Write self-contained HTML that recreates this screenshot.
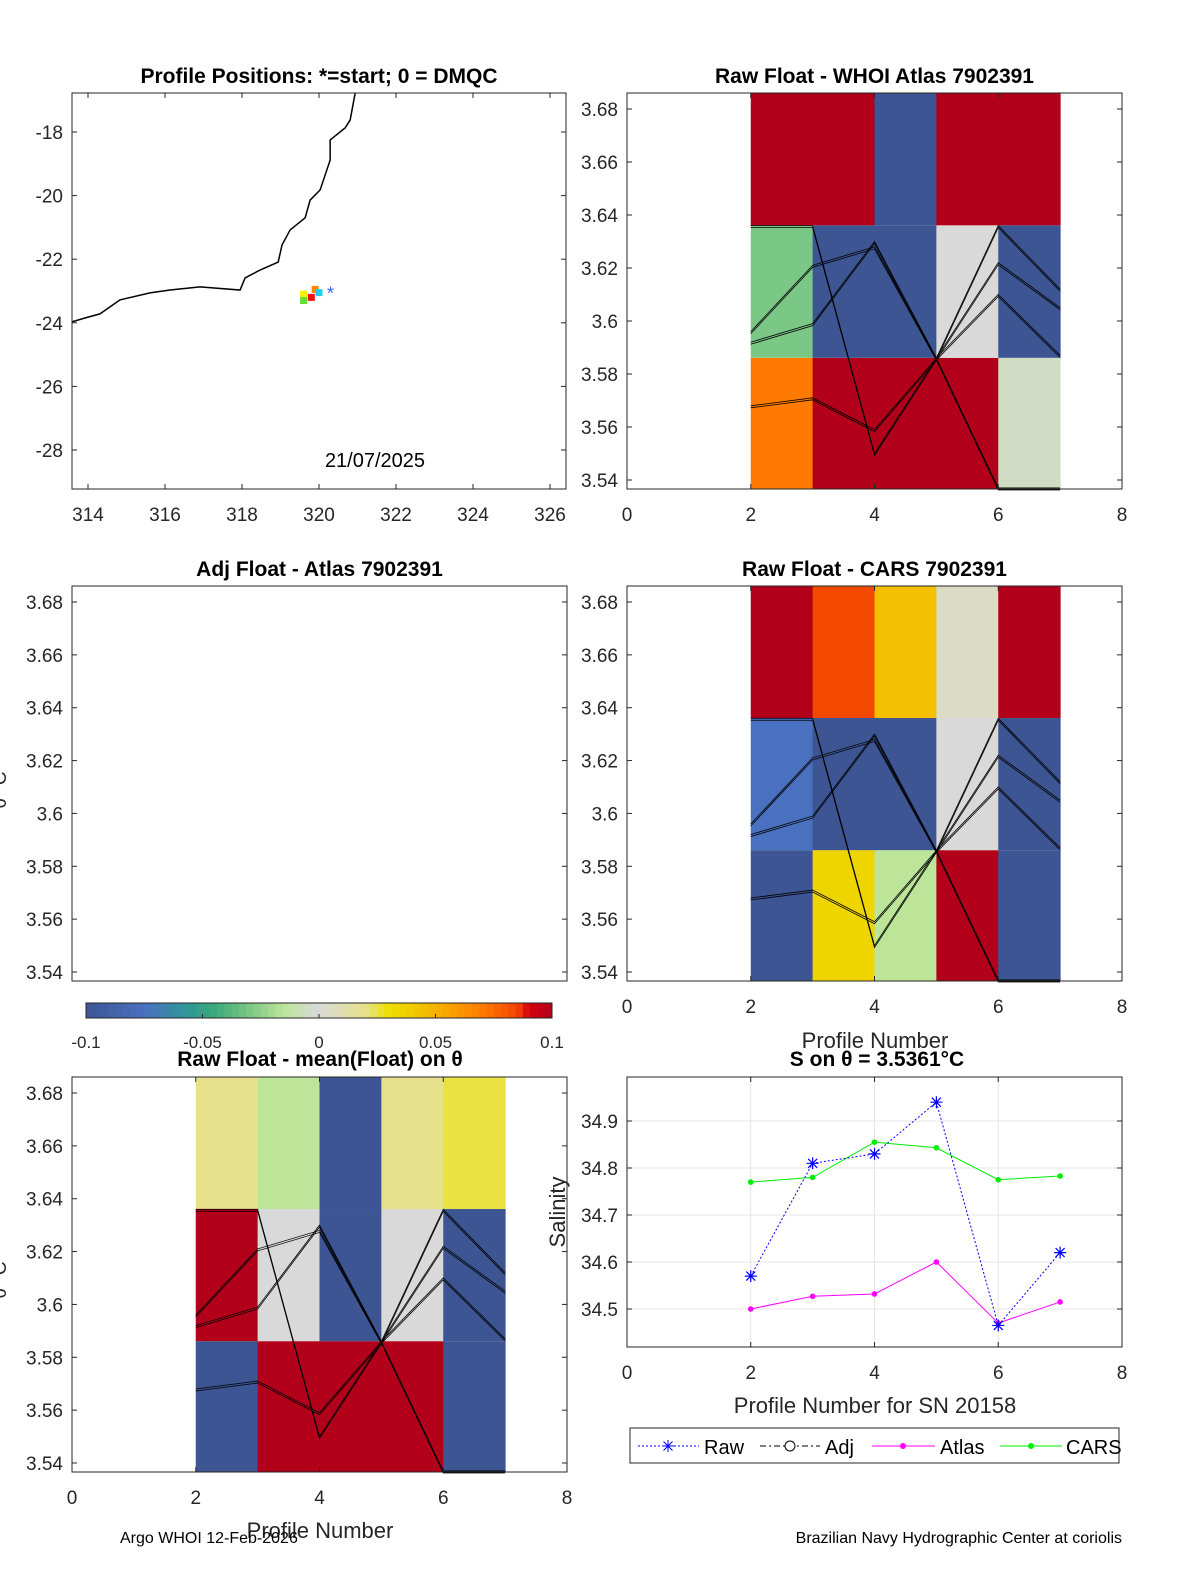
<!DOCTYPE html>
<html><head><meta charset="utf-8"><style>
body{margin:0;background:#fff}
svg{display:block;font-family:"Liberation Sans",sans-serif}
</style></head><body>
<svg id="fig" width="1200" height="1575" xmlns="http://www.w3.org/2000/svg"></svg>
<script>
// ---- data ----
const profiles=[2,3,4,5,6];
const thetaEdges=[3.5361,3.5861,3.6361,3.69];
const rawAtlasGrid=[[0.07,0.1,0.1,0.1,-0.005],[-0.03,-0.1,-0.1,0,-0.1],[0.1,0.1,-0.1,0.1,0.1]];
const rawCarsGrid=[[-0.1,0.035,-0.015,0.1,-0.1],[-0.075,-0.1,-0.1,0,-0.1],[0.1,0.085,0.045,0.005,0.1]];
const meanGrid=[[-0.1,0.1,0.1,0.1,-0.1],[0.1,0,-0.1,0,-0.1],[0.02,-0.015,-0.1,0.02,0.025]];
const lonTicks=[314,316,318,320,322,324,326];
const latTicks=[-18,-20,-22,-24,-26,-28];
const thetaTicks=[3.54,3.56,3.58,3.6,3.62,3.64,3.66,3.68];
const profTicks=[0,2,4,6,8];
const salTicks=[34.5,34.6,34.7,34.8,34.9];
const salProf=[2,3,4,5,6,7];
const rawSal=[34.57,34.81,34.83,34.94,34.465,34.62];
const atlasSal=[34.50,34.527,34.532,34.60,34.47,34.515];
const carsSal=[34.77,34.78,34.855,34.843,34.775,34.783];
const coastLon=[313.58,313.92,314.31,314.83,315.61,316.13,316.91,317.95,318.08,318.47,318.94,319.04,319.25,319.64,319.77,320.03,320.16,320.29,320.29,320.68,320.81,320.94];
const coastLat=[-23.97,-23.85,-23.72,-23.28,-23.06,-22.97,-22.87,-22.97,-22.59,-22.34,-22.09,-21.55,-21.08,-20.70,-20.14,-19.82,-19.35,-18.88,-18.25,-17.87,-17.62,-16.77];
const posLon=[319.6,319.9,319.8,320.0,319.6,320.3];
const posLat=[-23.1,-22.95,-23.2,-23.05,-23.3,-22.95];
const posCol=['#ffee00','#ff8800','#ee1111','#22ccee','#66dd33','#3366ff'];
const lineA=[3.592,3.599,3.63,3.586,3.61,3.587];
const lineB=[3.568,3.571,3.559,3.586,3.537,3.537];
const lineC=[3.596,3.621,3.628,3.586,3.622,3.605];
const lineD=[3.636,3.636,3.55,3.586,3.636,3.612];

const cmStops=[[-0.1,'#3d5593'],[-0.075,'#4a70c0'],[-0.055,'#2f9a95'],[-0.045,'#3aa87a'],[-0.03,'#7bc785'],[-0.015,'#bde59a'],[0,'#d9d9d9'],[0.02,'#e6e18a'],[0.03,'#ede000'],[0.05,'#f5b400'],[0.07,'#ff7a00'],[0.085,'#f24800'],[0.09,'#d60010'],[0.1,'#b2001a']];
function hex(c){return [1,3,5].map(i=>parseInt(c.substr(i,2),16));}
function cmap(v){v=Math.max(-0.1,Math.min(0.1,v));for(let i=0;i<cmStops.length-1;i++){const[a,ca]=cmStops[i],[b,cb]=cmStops[i+1];if(v<=b){const t=(v-a)/(b-a),A=hex(ca),B=hex(cb);return 'rgb('+A.map((x,k)=>Math.round(x+(B[k]-x)*t)).join(',')+')';}}return '#b2001a';}

const svg=document.getElementById('fig');const NS='http://www.w3.org/2000/svg';
function el(t,a,p){const e=document.createElementNS(NS,t);for(const k in a)e.setAttribute(k,a[k]);(p||svg).appendChild(e);return e;}
function txt(s,x,y,a,p){const e=el('text',Object.assign({x:x,y:y,'font-size':19,fill:'#262626'},a),p);e.textContent=s;return e;}
function lin(d0,d1,r0,r1){return v=>r0+(v-d0)*(r1-r0)/(d1-d0);}

function axesBox(name,x0,y0,x1,y1,title){
  const g=el('g',{});
  el('rect',{x:x0,y:y0,width:x1-x0,height:y1-y0,fill:'#fff'},g);
  if(title){const t=txt(title,(x0+x1)/2,y0-10,{'text-anchor':'middle','font-weight':'bold','font-size':21,fill:'#000'},g);}
  return g;
}
function frame(g,x0,y0,x1,y1){el('rect',{x:x0,y:y0,width:x1-x0,height:y1-y0,fill:'none',stroke:'#262626','stroke-width':1},g);}
function xticks(g,ticks,sx,y0,y1,fmt){ticks.forEach(t=>{const x=sx(t);el('line',{x1:x,x2:x,y1:y1,y2:y1-5,stroke:'#262626'},g);el('line',{x1:x,x2:x,y1:y0,y2:y0+5,stroke:'#262626'},g);const e=txt(fmt?fmt(t):String(t),x,y1+32,{'text-anchor':'middle'},g);});}
function yticks(g,ticks,sy,x0,x1){ticks.forEach(t=>{const y=sy(t);el('line',{x1:x0,x2:x0+5,y1:y,y2:y,stroke:'#262626'},g);el('line',{x1:x1,x2:x1-5,y1:y,y2:y,stroke:'#262626'},g);const e=txt(String(t),x0-9,y+7,{'text-anchor':'end'},g);});}

function heatPanel(name,x0,y0,x1,y1,title,grid){
  const g=axesBox(name,x0,y0,x1,y1,title);
  const sx=lin(0,8,x0,x1);const sy=lin(3.54,3.68,y1-9,y0+16);
  grid.forEach((row,r)=>row.forEach((v,c)=>{
    const ya=r===2?y0:sy(thetaEdges[r+1]);const yb=r===0?y1:sy(thetaEdges[r]);
    const rc=el('rect',{x:sx(profiles[c]),y:ya,width:sx(profiles[c]+1)-sx(profiles[c])+0.5,height:yb-ya,fill:cmap(v)},g);
    
  }));
  [lineA,lineB,lineC,lineD].forEach((L)=>{
    const pts=L.slice(0,6).map((v,k)=>sx(k+2)+','+Math.min(y1,Math.max(y0,sy(v)))).join(' ');
    [0,2].forEach(o=>{const p=el('polyline',{points:pts,fill:'none',stroke:'#000','stroke-width':0.8,transform:'translate(0,'+o+')'},g);});
  });
  xticks(g,profTicks,sx,y0,y1);yticks(g,thetaTicks,sy,x0,x1);frame(g,x0,y0,x1,y1);
  return g;
}
(function(){
  const x0=72,y0=93,x1=566,y1=489;
  const g=axesBox('profile-map',x0,y0,x1,y1,'Profile Positions: *=start; 0 = DMQC');
  const sx=lin(314,326,88,550),sy=lin(-18,-28,132,450);
  const c=el('polyline',{points:coastLon.map((v,i)=>sx(v)+','+sy(coastLat[i])).join(' '),fill:'none',stroke:'#000','stroke-width':1.5},g);
  
  posLon.forEach((v,i)=>{if(i===5){const s=txt('*',sx(v),sy(posLat[i])+10,{'text-anchor':'middle',fill:posCol[i],'font-size':18},g);return;}
    const r=el('rect',{x:sx(v)-3.5,y:sy(posLat[i])-3.5,width:7,height:7,fill:posCol[i]},g);});
  const d=txt('21/07/2025',375,467,{'text-anchor':'middle','font-size':20,fill:'#000'},g);
  xticks(g,lonTicks,sx,y0,y1);yticks(g,latTicks,sy,x0,x1);frame(g,x0,y0,x1,y1);
})();
heatPanel('raw-atlas-panel',627,93,1122,489,'Raw Float - WHOI Atlas  7902391',rawAtlasGrid);
(function(){const x0=72,y0=586,x1=567,y1=981;const g=axesBox('adj-atlas-panel',x0,y0,x1,y1,'Adj Float - Atlas  7902391');
  const sy=lin(3.54,3.68,y1-9,y0+16);yticks(g,thetaTicks,sy,x0,x1);frame(g,x0,y0,x1,y1);
  const yl=txt('θ °C',6,790,{'text-anchor':'middle',transform:'rotate(-90 6 790)'},g);})();
heatPanel('raw-cars-panel',627,586,1122,981,'Raw Float - CARS  7902391',rawCarsGrid);
const px=txt('Profile Number',875,1048,{'text-anchor':'middle','font-size':22});
(function(){const g=el('g',{});
  const x0=86,x1=552,n=64,w=(x1-x0)/n;
  for(let i=0;i<n;i++){el('rect',{x:x0+i*w,y:1003,width:w+0.5,height:15,fill:cmap(-0.1+(i+0.5)*0.2/n)},g);}
  el('rect',{x:x0,y:1003,width:x1-x0,height:15,fill:'none',stroke:'#262626'},g);
  [-0.1,-0.05,0,0.05,0.1].forEach(t=>{const x=x0+(t+0.1)/0.2*(x1-x0);el('line',{x1:x,x2:x,y1:1018,y2:1014,stroke:'#262626'},g);const e=txt(String(t),x,1048,{'text-anchor':'middle','font-size':17},g);});})();
heatPanel('raw-mean-panel',72,1077,567,1472,'',meanGrid);
const t5=txt('Raw Float - mean(Float) on θ',320,1066,{'text-anchor':'middle','font-weight':'bold','font-size':21,fill:'#000'});
const yl5=txt('θ °C',6,1280,{'text-anchor':'middle',transform:'rotate(-90 6 1280)'});
const px2=txt('Profile Number',320,1538,{'text-anchor':'middle','font-size':22});
(function(){const x0=627,y0=1077,x1=1122,y1=1347;
  const g=axesBox('salinity-panel',x0,y0,x1,y1,'');
  const tt=txt('S on θ = 3.5361°C',877,1066,{'text-anchor':'middle','font-weight':'bold','font-size':21,fill:'#000'},g);
  const sx=lin(0,8,x0,x1),sy=lin(34.5,34.9,1309,1121);
  profTicks.forEach(t=>el('line',{x1:sx(t),x2:sx(t),y1:y0,y2:y1,stroke:'#e5e5e5'},g));
  salTicks.forEach(t=>el('line',{x1:x0,x2:x1,y1:sy(t),y2:sy(t),stroke:'#e5e5e5'},g));
  function series(name,vals,col,dash,mk){const pl=el('polyline',{points:vals.map((v,i)=>sx(salProf[i])+','+sy(v)).join(' '),fill:'none',stroke:col,'stroke-width':1,'stroke-dasharray':dash||''},g);
    vals.forEach((v,i)=>{const x=sx(salProf[i]),y=sy(v);let m;if(mk==='star'){m=el('path',{d:`M${x-6} ${y}H${x+6}M${x} ${y-6}V${y+6}M${x-4.5} ${y-4.5}L${x+4.5} ${y+4.5}M${x-4.5} ${y+4.5}L${x+4.5} ${y-4.5}`,stroke:col,'stroke-width':1.2},g);}else{m=el('circle',{cx:x,cy:y,r:2.8,fill:col},g);}});}
  series('cars',carsSal,'#00ee00','','dot');series('atlas',atlasSal,'#ff00ff','','dot');series('raw',rawSal,'#0000ff','2 2','star');
  xticks(g,profTicks,sx,y0,y1);yticks(g,salTicks,sy,x0,x1);frame(g,x0,y0,x1,y1);
  const xl=txt('Profile Number for SN 20158',875,1413,{'text-anchor':'middle','font-size':22},g);
  const yl=txt('Salinity',565,1212,{'text-anchor':'middle','font-size':22,transform:'rotate(-90 565 1212)'},g);
  const lg=el('g',{},svg);
  el('rect',{x:630,y:1428,width:489,height:35,fill:'#fff',stroke:'#262626'},lg);
  const ly=1446;
  el('line',{x1:638,x2:699,y1:ly,y2:ly,stroke:'#0000ff','stroke-dasharray':'2 2'},lg);
  el('path',{d:`M662 ${ly}H674M668 ${ly-6}V${ly+6}M663.5 ${ly-4.5}L672.5 ${ly+4.5}M663.5 ${ly+4.5}L672.5 ${ly-4.5}`,stroke:'#0000ff'},lg);
  txt('Raw',704,1454,{'font-size':20,fill:'#000'},lg);
  el('line',{x1:760,x2:820,y1:ly,y2:ly,stroke:'#000','stroke-dasharray':'6 3 2 3'},lg);
  el('circle',{cx:790,cy:ly,r:5,fill:'#fff',stroke:'#000'},lg);
  txt('Adj',825,1454,{'font-size':20,fill:'#000'},lg);
  el('line',{x1:872,x2:935,y1:ly,y2:ly,stroke:'#ff00ff'},lg);el('circle',{cx:903,cy:ly,r:3,fill:'#ff00ff'},lg);
  txt('Atlas',940,1454,{'font-size':20,fill:'#000'},lg);
  el('line',{x1:1000,x2:1062,y1:ly,y2:ly,stroke:'#00ee00'},lg);el('circle',{cx:1031,cy:ly,r:3,fill:'#00ee00'},lg);
  txt('CARS',1066,1454,{'font-size':20,fill:'#000'},lg);
})();
const f1=txt('Argo WHOI 12-Feb-2026',120,1543,{'font-size':16,fill:'#000'});
const f2=txt('Brazilian Navy Hydrographic Center at coriolis',1122,1543,{'font-size':16,fill:'#000','text-anchor':'end'});
</script>
</body></html>
